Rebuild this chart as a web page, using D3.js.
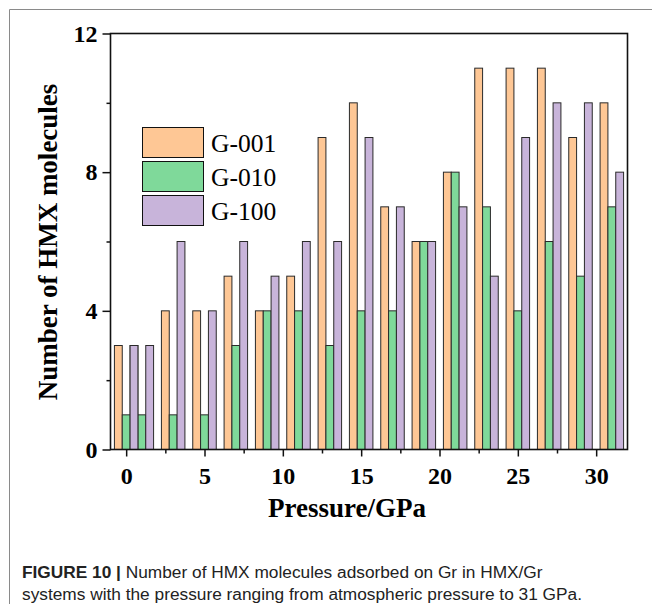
<!DOCTYPE html>
<html>
<head>
<meta charset="utf-8">
<script src="https://cdn.jsdelivr.net/npm/d3@7"></script>
<style>
  html, body { margin: 0; padding: 0; background: #fff; }
  svg { display: block; }
</style>
</head>
<body>
<svg id="chart" width="652" height="604"></svg>
<script>
// Data
const pressures = [0, 1, 3, 5, 7, 9, 11, 13, 15, 17, 19, 21, 23, 25, 27, 29, 31];
const seriesNames = ["G-001", "G-010", "G-100"];
const g001 = [3, 3, 4, 4, 5, 4, 5, 9, 10, 7, 6, 8, 11, 11, 11, 9, 10];
const g010 = [1, 1, 1, 1, 3, 4, 4, 3, 4, 4, 6, 8, 7, 4, 6, 5, 7];
const g100 = [3, 3, 6, 4, 6, 5, 6, 6, 9, 7, 6, 7, 5, 9, 10, 10, 8];
const seriesColors = ["#FEC795", "#7FD99A", "#C8B4DA"];
const xTicks = [0, 5, 10, 15, 20, 25, 30];
const yTicks = [0, 4, 8, 12];

const seriesValues = [g001, g010, g100];
const svg = d3.select("#chart");

// Page frame lines
svg.append("line").attr("x1", 9.5).attr("x2", 652).attr("y1", 9.5).attr("y2", 9.5)
  .attr("stroke", "#8a8a8a").attr("stroke-width", 1);
svg.append("line").attr("x1", 9.5).attr("x2", 9.5).attr("y1", 9.5).attr("y2", 604)
  .attr("stroke", "#8a8a8a").attr("stroke-width", 1);

const mLeft = 110.5, mRight = 627.5, mTop = 33.5, mBottom = 449.5;
const x = d3.scaleLinear().domain([-1, 32]).range([mLeft, mRight]);
const y = d3.scaleLinear().domain([0, 12]).range([mBottom, mTop]);
const barW = x(0.5) - x(0);
const offsets = [-0.5, 0, 0.5];

// Bars: series drawn in order
seriesValues.forEach((vals, si) => {
  svg.append("g").selectAll("rect").data(pressures.map((p, i) => ({p, v: vals[i]})))
    .join("rect")
    .attr("x", d => x(d.p + offsets[si]) - barW / 2)
    .attr("width", barW)
    .attr("y", d => y(d.v))
    .attr("height", d => y(0) - y(d.v))
    .attr("fill", seriesColors[si])
    .attr("stroke", "#2a2a2a")
    .attr("stroke-width", 1);
});

// Frame
svg.append("rect").attr("x", mLeft).attr("y", mTop).attr("width", mRight - mLeft).attr("height", mBottom - mTop)
  .attr("fill", "none").attr("stroke", "#111").attr("stroke-width", 1.6);

const tickFont = "'Liberation Serif', 'Times New Roman', serif";

// X axis
const xAxis = d3.axisBottom(x).tickValues(xTicks).tickSize(7).tickPadding(10).tickFormat(d3.format("d"));
const gx = svg.append("g").attr("transform", `translate(0,${mBottom})`).call(xAxis);
gx.select(".domain").remove();
gx.selectAll(".tick line").attr("stroke", "#111").attr("stroke-width", 1.5);
gx.selectAll("text").attr("font-family", tickFont).attr("font-weight", "bold").attr("font-size", 24).attr("fill", "#000");
const xMinor = d3.range(2.5, 32, 5);
svg.append("g").attr("transform", `translate(0,${mBottom})`)
  .call(d3.axisBottom(x).tickValues(xMinor).tickSize(4).tickFormat(""))
  .call(g => g.select(".domain").remove())
  .selectAll(".tick line").attr("stroke", "#111").attr("stroke-width", 1.5);

// Y axis
const yAxis = d3.axisLeft(y).tickValues(yTicks).tickSize(8).tickPadding(5).tickFormat(d3.format("d"));
const gy = svg.append("g").attr("transform", `translate(${mLeft},0)`).call(yAxis);
gy.select(".domain").remove();
gy.selectAll(".tick line").attr("stroke", "#111").attr("stroke-width", 1.5);
gy.selectAll("text").attr("font-family", tickFont).attr("font-weight", "bold").attr("font-size", 24).attr("fill", "#000");
svg.append("g").attr("transform", `translate(${mLeft},0)`)
  .call(d3.axisLeft(y).tickValues([2, 6, 10]).tickSize(4).tickFormat(""))
  .call(g => g.select(".domain").remove())
  .selectAll(".tick line").attr("stroke", "#111").attr("stroke-width", 1.5);

// Axis titles
svg.append("text").attr("x", 347).attr("y", 517)
  .attr("text-anchor", "middle").attr("font-family", tickFont).attr("font-weight", "bold")
  .attr("font-size", 27).text("Pressure/GPa");
svg.append("text").attr("transform", `translate(57,242) rotate(-90)`)
  .attr("text-anchor", "middle").attr("font-family", tickFont).attr("font-weight", "bold")
  .attr("font-size", 27).text("Number of HMX molecules");

// Legend
const lg = svg.append("g");
seriesNames.forEach((name, i) => {
  const ly = 127.5 + i * 34;
  lg.append("rect").attr("x", 142.5).attr("y", ly).attr("width", 61).attr("height", 30)
    .attr("fill", seriesColors[i]).attr("stroke", "#111").attr("stroke-width", 1);
  lg.append("text").attr("x", 211).attr("y", ly + 24).attr("font-family", tickFont)
    .attr("font-size", 25.5).attr("fill", "#000").text(name);
});

// Caption
const capFont = "'Liberation Sans', Arial, sans-serif";
const cap1 = svg.append("text").attr("x", 22).attr("y", 578).attr("font-family", capFont).attr("font-size", 17.3).attr("fill", "#222");
cap1.append("tspan").attr("font-weight", "bold").text("FIGURE 10 | ");
cap1.append("tspan").text("Number of HMX molecules adsorbed on Gr in HMX/Gr");
svg.append("text").attr("x", 22).attr("y", 600).attr("font-family", capFont).attr("font-size", 17.3).attr("fill", "#222")
  .text("systems with the pressure ranging from atmospheric pressure to 31 GPa.");
</script>
</body>
</html>
